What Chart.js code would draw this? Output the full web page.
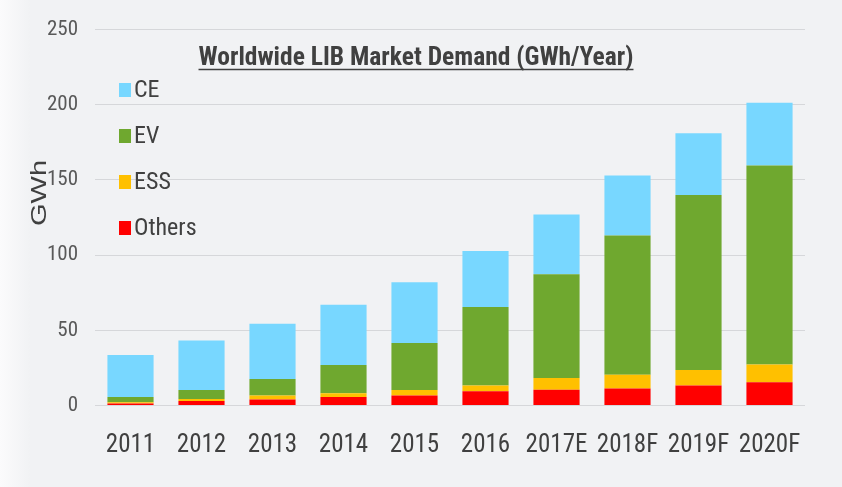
<!DOCTYPE html>
<html>
<head>
<meta charset="utf-8">
<script src="https://cdn.jsdelivr.net/npm/chart.js@4.4.0/dist/chart.umd.min.js"></script>
<style>
  html, body { margin: 0; padding: 0; background: #f1f2f4; }
  #wrap { width: 842px; height: 487px; position: relative;
          background: linear-gradient(90deg, #fbfbfc 0px, #f1f2f4 30px, #f1f2f4 100%); }
</style>
</head>
<body>
<div id="wrap"><canvas id="chartCanvas" width="842" height="487"></canvas></div>
<script>
/* ─── data (GWh) ─── */
const years  = ['2011', '2012', '2013', '2014', '2015', '2016', '2017E', '2018F', '2019F', '2020F'];
const others = [1.3, 3.0, 4.0, 5.6, 6.6, 9.4, 10.5, 11.3, 13.3, 15.4];
const ess    = [0.8, 1.3, 2.7, 2.6, 3.7, 3.9, 7.8, 9.1, 10.3, 11.9];
const ev     = [3.5, 6.0, 11.0, 18.8, 31.3, 52.2, 69.0, 92.6, 116.4, 132.4];
const ce     = [28.0, 33.0, 36.6, 40.0, 40.4, 37.3, 39.7, 40.0, 41.0, 41.7];
const yTicks = [0, 50, 100, 150, 200, 250];

const TITLE  = 'Worldwide LIB Market Demand (GWh/Year)';
const NARROW = "'Roboto Condensed', 'Liberation Sans', Arial, sans-serif";
const TEXT   = '#404040';

/* ─── title + y title + legend drawn inside the plot ─── */
const overlay = {
  id: 'overlay',
  afterDraw(c) {
    const ctx = c.ctx;
    ctx.save();

    // title with underline
    ctx.font = `bold 25.5px ${NARROW}`;
    ctx.fillStyle = TEXT;
    ctx.textAlign = 'center';
    ctx.textBaseline = 'alphabetic';
    const tx = 416, ty = 65;
    ctx.fillText(TITLE, tx, ty);
    const w = ctx.measureText(TITLE).width;
    ctx.strokeStyle = TEXT;
    ctx.lineWidth = 1.5;
    ctx.beginPath();
    ctx.moveTo(tx - w / 2, ty + 4.5);
    ctx.lineTo(tx + w / 2, ty + 4.5);
    ctx.stroke();

    // y axis title (squeezed like the source)
    ctx.save();
    ctx.translate(40, 193);
    ctx.rotate(-Math.PI / 2);
    ctx.scale(1, 0.76);
    ctx.font = `29px 'Liberation Sans', Arial, sans-serif`;
    ctx.textBaseline = 'middle';
    ctx.fillText('GWh', 0, 0);
    ctx.restore();

    // legend, top of stack first
    const sets = c.data.datasets.slice().reverse();
    ctx.font = `24px ${NARROW}`;
    ctx.textAlign = 'left';
    ctx.textBaseline = 'middle';
    sets.forEach((ds, i) => {
      const y = 90 + i * 46;
      ctx.fillStyle = ds.backgroundColor;
      ctx.fillRect(119, y - 7, 12, 14);
      ctx.fillStyle = TEXT;
      ctx.fillText(ds.label, 134, y + 1);
    });

    ctx.restore();
  }
};

const ctx = document.getElementById('chartCanvas').getContext('2d');

new Chart(ctx, {
  type: 'bar',
  data: {
    labels: years,
    datasets: [
      { label: 'Others', data: others, backgroundColor: '#ff0000' },
      { label: 'ESS',    data: ess,    backgroundColor: '#ffc000' },
      { label: 'EV',     data: ev,     backgroundColor: '#6fa82f' },
      { label: 'CE',     data: ce,     backgroundColor: '#78d7ff' }
    ]
  },
  options: {
    responsive: false,
    animation: false,
    layout: { padding: { top: 19, right: 37, left: 0, bottom: 0 } },
    datasets: { bar: { categoryPercentage: 1, barPercentage: 0.65, borderWidth: 0 } },
    plugins: {
      legend: { display: false },
      title: { display: false },
      tooltip: { enabled: false }
    },
    scales: {
      x: {
        stacked: true,
        grid: { display: false },
        border: { display: false },
        ticks: { color: TEXT, padding: 17, maxRotation: 0, autoSkip: false,
                 font: { family: NARROW, size: 25 } },
        afterFit: s => { s.height = 81.5; }
      },
      y: {
        stacked: true,
        min: 0,
        max: 250,
        afterBuildTicks: s => { s.ticks = yTicks.map(v => ({ value: v })); },
        grid: { color: '#d6d7da', lineWidth: 1, drawTicks: false },
        border: { display: false },
        ticks: { color: '#595959', padding: 17, font: { family: NARROW, size: 21 } },
        afterFit: s => { s.width = 95; }
      }
    }
  },
  plugins: [overlay]
});
</script>
</body>
</html>
